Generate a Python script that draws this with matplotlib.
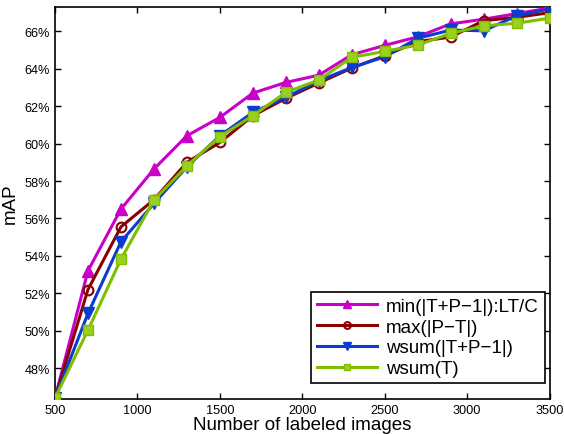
import matplotlib
matplotlib.use("Agg")
import matplotlib.pyplot as plt
from matplotlib.ticker import FuncFormatter

plt.rcParams['font.family'] = ['Liberation Sans', 'DejaVu Sans']

# number of labeled images
n_labeled = [500, 700, 900, 1100, 1300, 1500, 1700, 1900,
             2100, 2300, 2500, 2700, 2900, 3100, 3300, 3500]

# mAP (%) for each strategy
map_min_lt = [46.4, 53.2, 56.5, 58.64, 60.42, 61.4, 62.7, 63.27,
              63.66, 64.75, 65.25, 65.71, 66.4, 66.65, 66.95, 67.25]
map_max_pt = [46.4, 52.2, 55.55, 57.0, 59.0, 60.06, 61.49, 62.42,
              63.24, 64.04, 64.7, 65.45, 65.7, 66.57, 66.75, 67.0]
map_wsum_tp = [46.4, 50.92, 54.75, 56.8, 58.76, 60.42, 61.67, 62.47,
               63.36, 64.07, 64.64, 65.63, 66.07, 66.03, 66.83, 67.2]
map_wsum_t = [46.4, 50.03, 53.82, 56.98, 58.81, 60.38, 61.49, 62.74,
              63.4, 64.61, 64.93, 65.27, 65.89, 66.3, 66.43, 66.71]

labels = ['min(|T+P\u22121|):LT/C', 'max(|P\u2212T|)',
          'wsum(|T+P\u22121|)', 'wsum(T)']

fig = plt.figure(figsize=(5.64, 4.35), dpi=100)
ax = fig.add_axes([0.0975, 0.0805, 0.877, 0.901])

ax.plot(n_labeled, map_min_lt, color='#c800c8', lw=2.2, marker='^',
        ms=8, mfc='#c800c8', mec='#c800c8', label=labels[0], zorder=3)
ax.plot(n_labeled, map_max_pt, color='#8b0000', lw=2.2, marker='o',
        ms=7, mfc='none', mec='#8b0000', mew=1.5, label=labels[1], zorder=3)
ax.plot(n_labeled, map_wsum_tp, color='#0a3cd2', lw=2.2, marker='v',
        ms=8, mfc='#0a3cd2', mec='#0a3cd2', label=labels[2], zorder=3)
ax.plot(n_labeled, map_wsum_t, color='#7fbf00', lw=2.2, marker='s',
        ms=7, mfc='#9ad020', mec='#7fbf00', label=labels[3], zorder=3)

ax.set_xlim(500, 3500)
ax.set_ylim(46.35, 67.3)
ax.set_xticks(range(500, 3501, 500))
ax.set_yticks(range(48, 67, 2))
ax.yaxis.set_major_formatter(FuncFormatter(lambda v, p: '%d%%' % v))

ax.tick_params(direction='in', top=True, right=True, labelsize=9.2,
               length=4, width=1)
for s in ax.spines.values():
    s.set_linewidth(1.2)

ax.set_xlabel('Number of labeled images', fontsize=13.5, labelpad=0)
ax.set_ylabel('mAP', fontsize=13.5, labelpad=4)

leg = ax.legend(loc='lower right', bbox_to_anchor=(0.99, 0.041),
                fontsize=13.5, frameon=True, fancybox=False,
                edgecolor='black', framealpha=1, borderpad=0.3,
                labelspacing=0.2, handlelength=3.2, handletextpad=0.5,
                borderaxespad=0, markerscale=0.7)
leg.get_frame().set_linewidth(1.2)

fig.savefig('out.png', dpi=100)
